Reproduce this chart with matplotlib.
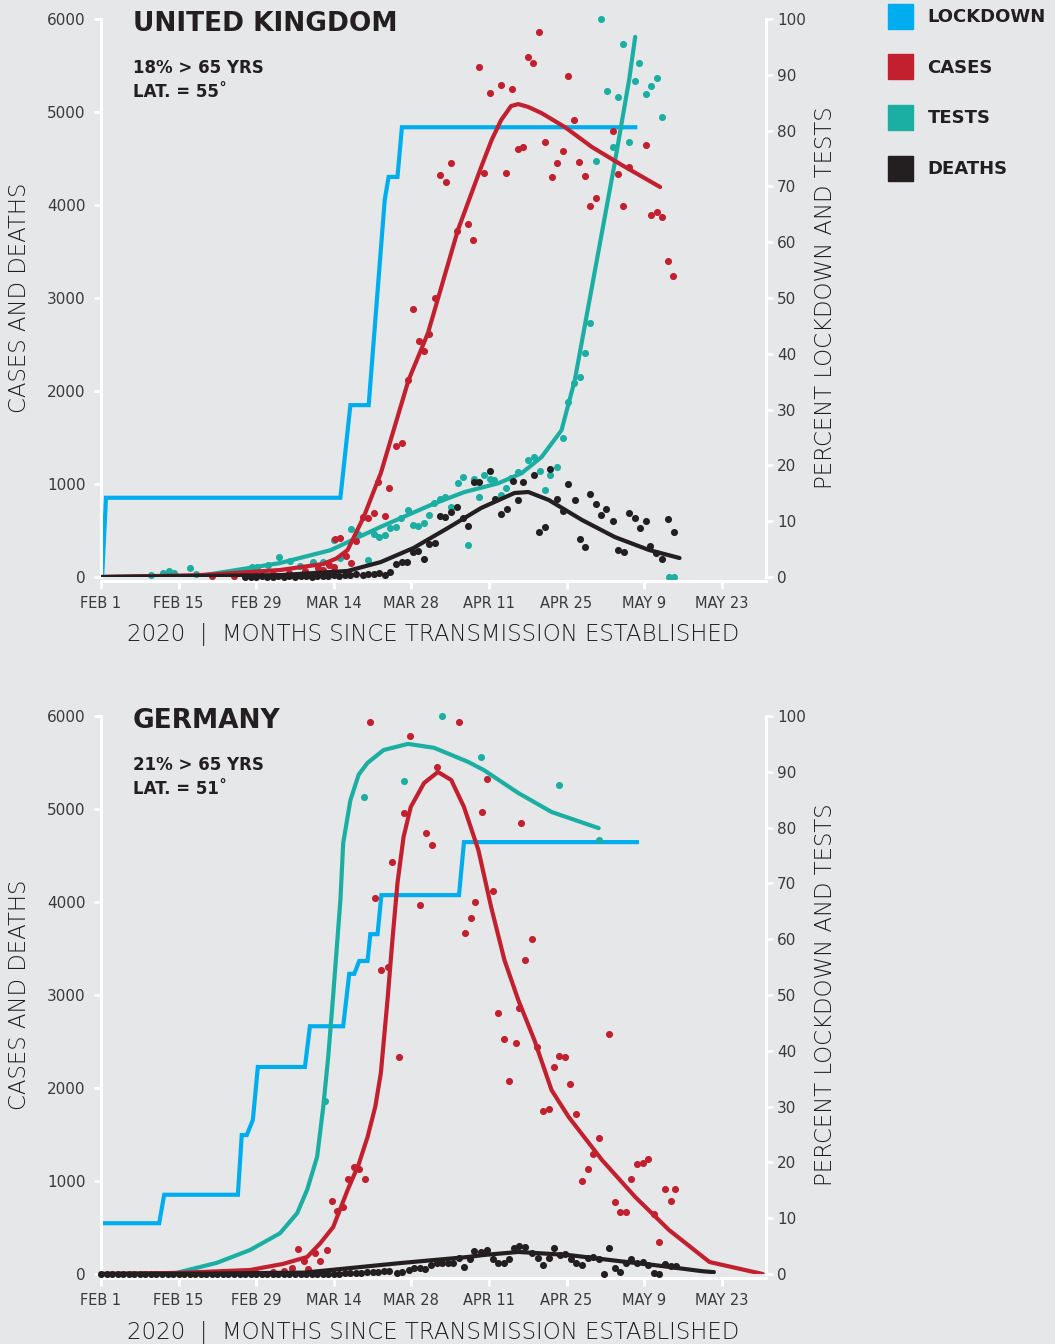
import matplotlib
matplotlib.use("Agg")
import matplotlib.pyplot as plt
from matplotlib.patches import Patch

# colours
BG = "#E6E7E8"
C_LOCK = "#00AEEF"
C_CASE = "#C21F2F"
C_TEST = "#1BAFA3"
C_DEATH = "#231F20"
TXT = "#2B2B2B"

# x axis: days since Feb 1 2020
tick_days = [0, 14, 28, 42, 56, 70, 84, 98, 112]
tick_labels = ["FEB 1", "FEB 15", "FEB 29", "MAR 14", "MAR 28", "APR 11", "APR 25", "MAY 9", "MAY 23"]

# ---------------- UNITED KINGDOM ----------------
uk_lock_days = [0.2, 0.9, 43.2, 45.0, 48.3, 51.2, 51.9, 53.5, 54.3, 96.4]
uk_lock_pct = [0, 14.2, 14.2, 30.8, 30.8, 67.6, 71.7, 71.7, 80.6, 80.6]

uk_case_trend_days = [0, 17.8, 32.3, 40.1, 42.5, 44.5, 47.4, 50.5, 55.5, 59.0, 64.4, 68.6, 70.5, 72.2, 74.0, 75.3, 77.1, 79.5, 83.7, 88.6, 94.0, 100.9]
uk_case_trend = [0, 20, 75, 140, 200, 290, 645, 1118, 2118, 2623, 3730, 4408, 4700, 4913, 5064, 5085, 5054, 4988, 4838, 4623, 4429, 4193]

uk_test_trend_days = [0, 17.8, 32.3, 41.4, 50.5, 59.5, 65.5, 71.7, 75.9, 79.5, 83.1, 85.5, 92.7, 95.3, 96.4]
uk_test_trend = [0, 0.2, 2.5, 4.8, 9.0, 12.9, 15.2, 16.8, 18.6, 21.5, 26.3, 35.3, 74.2, 89.1, 96.8]

uk_death_trend_days = [0, 32.3, 44.5, 50.5, 56.4, 62.6, 68.6, 74.6, 77.1, 80.8, 86.8, 92.7, 98.9, 104.4]
uk_death_trend = [0, 20, 65, 161, 312, 527, 742, 903, 914, 828, 613, 430, 290, 204]

uk_case_pts = [
    (20, 10), (24, 15), (28, 20), (31, 30), (34, 40), (36.8, 65), (39.2, 97), (40.1, 75),
    (41.2, 129), (42.1, 108), (42.3, 409), (43.2, 419), (44.3, 226), (45.2, 151), (46.1, 387),
    (47.2, 645), (48.1, 634), (49.2, 688), (50.0, 1022), (51.2, 656), (52.0, 957), (53.2, 1409),
    (54.3, 1441), (55.4, 2118), (56.3, 2882), (57.4, 2538), (58.3, 2430), (59.2, 2613),
    (60.3, 3000), (61.2, 4323), (62.3, 4247), (63.2, 4452), (64.2, 3721), (66.2, 3796),
    (67.2, 3624), (68.2, 5484), (69.1, 4344), (70.2, 5204), (72.2, 5290), (73.1, 4344),
    (74.2, 5247), (75.3, 4602), (76.2, 4624), (77.1, 5591), (78.0, 5527), (79.1, 5860),
    (80.2, 4678), (81.3, 4301), (82.2, 4452), (83.3, 4581), (84.2, 5387), (85.3, 4914),
    (86.2, 4463), (87.3, 4312), (88.2, 3989), (89.3, 4075), (92.4, 4796), (93.3, 4333),
    (94.2, 3989), (95.3, 4409), (98.4, 4645), (99.3, 3893), (100.4, 3925), (101.3, 3871),
    (102.4, 3398), (103.3, 3237),
]

uk_test_pts = [
    (9.1, 0.4), (11.1, 0.7), (12.2, 1.1), (13.1, 0.7), (16.0, 1.6), (17.2, 0.5), (27.2, 1.8),
    (28.1, 1.8), (30.1, 2.2), (32.1, 3.6), (34.1, 2.9), (35.9, 2.0), (38.3, 2.7), (40.1, 2.7),
    (42.1, 6.6), (43.2, 3.4), (45.2, 8.6), (46.3, 7.7), (48.1, 3.0), (49.2, 7.7), (50.1, 7.2),
    (51.2, 7.5), (52.1, 8.8), (53.2, 9.0), (54.1, 10.6), (55.4, 12.0), (56.3, 9.3), (57.2, 9.1),
    (58.3, 9.7), (59.2, 11.1), (60.1, 13.3), (61.2, 14.0), (62.1, 14.3), (63.2, 12.5),
    (64.4, 16.8), (65.3, 17.9), (66.2, 5.7), (67.3, 17.6), (68.2, 14.3), (69.1, 18.3),
    (70.2, 17.6), (71.0, 17.4), (72.2, 14.7), (73.1, 16.0), (74.0, 17.7), (75.3, 18.8),
    (77.1, 21.0), (78.2, 21.5), (79.3, 19.0), (80.2, 15.6), (81.1, 18.3), (82.2, 19.7),
    (83.3, 24.9), (84.2, 31.4), (85.3, 34.8), (86.4, 35.8), (87.3, 40.1), (88.2, 45.5),
    (89.3, 74.6), (90.2, 100), (91.3, 87.1), (92.4, 77.1), (93.3, 86.0), (94.2, 95.5),
    (95.3, 78.0), (96.4, 88.9), (97.1, 92.1), (98.4, 86.6), (99.3, 88.0), (100.4, 89.4),
    (101.3, 82.4), (102.5, 0), (103.4, 0),
]

uk_death_pts = [
    (26, 5), (27, 0), (28, 5), (29, 10), (30, 5), (31, 0), (32, 10), (33, 5), (34, 10), (35, 5),
    (36, 15), (37, 10), (38, 5), (39, 10), (40, 15), (41, 10), (42, 20), (43, 15), (44, 20),
    (45, 25), (46, 30), (47.2, 22), (48.1, 32), (49.2, 32), (50.1, 43), (51.2, 22), (52.1, 54),
    (53.2, 140), (54.3, 161), (55.2, 161), (56.3, 269), (57.2, 280), (58.3, 194), (59.2, 355),
    (60.3, 366), (61.2, 656), (62.1, 645), (63.2, 699), (64.2, 753), (65.3, 634), (66.2, 548),
    (67.3, 1022), (68.2, 1022), (70.2, 1140), (71.1, 839), (72.2, 677), (73.3, 731),
    (74.4, 1032), (75.3, 828), (76.2, 1022), (78.2, 1097), (79.1, 484), (80.2, 538),
    (81.1, 1161), (82.2, 839), (83.3, 710), (84.2, 1000), (85.5, 828), (86.4, 409), (87.3, 323),
    (88.2, 892), (89.3, 785), (90.2, 667), (91.1, 731), (92.4, 602), (93.3, 290), (94.4, 269),
    (95.3, 688), (96.4, 634), (97.3, 527), (98.4, 602), (99.1, 333), (100.2, 258), (101.3, 194),
    (102.4, 624), (103.4, 484),
]

# ---------------- GERMANY ----------------
de_lock_days = [0.2, 10.5, 11.4, 24.7, 25.4, 26.3, 27.4, 28.3, 36.8, 37.7, 43.7, 44.8, 45.7, 46.6, 48.1, 48.6, 49.9, 50.6, 64.6, 65.5, 96.7]
de_lock_pct = [9.1, 9.1, 14.2, 14.2, 24.9, 24.9, 27.6, 37.1, 37.1, 44.4, 44.4, 53.8, 53.8, 56.1, 56.1, 60.9, 60.9, 67.9, 67.9, 77.4, 77.4]

de_test_trend_days = [0, 13.6, 20.9, 26.9, 32.3, 35.4, 37.2, 39.0, 40.1, 41.0, 41.9, 43.2, 43.7, 45.0, 46.5, 48.1, 51.0, 55.4, 60.1, 66.2, 69.1, 75.3, 81.3, 89.8]
de_test_trend = [0, 0.2, 2.0, 4.3, 7.3, 10.9, 15.1, 21.0, 29.9, 38.9, 50.0, 67.0, 77.2, 84.9, 89.5, 91.6, 93.9, 95.0, 94.3, 91.8, 90.3, 86.2, 82.8, 79.9]

de_case_trend_days = [0, 13.6, 26.9, 32.8, 37.2, 39.6, 41.9, 44.5, 46.5, 48.1, 49.5, 50.5, 51.7, 52.6, 53.5, 54.6, 55.9, 58.3, 60.8, 63.2, 65.5, 68.1, 70.4, 72.8, 75.3, 78.2, 81.3, 84.4, 90.4, 96.4, 102.5, 109.8, 119.4]
de_case_trend = [0, 11, 43, 108, 183, 333, 505, 903, 1180, 1473, 1800, 2161, 2946, 3600, 4204, 4700, 5022, 5280, 5398, 5312, 5022, 4559, 3946, 3376, 2946, 2516, 1978, 1688, 1226, 828, 473, 129, 0]

de_death_trend_days = [0, 20, 36.7, 54.1, 66.2, 69.0, 75.3, 84.4, 93.3, 100.0, 108.5, 110.6]
de_death_trend = [0, 5, 15, 118, 183, 204, 237, 204, 140, 95, 30, 20]

de_case_pts = [
    (28, 10), (31, 20), (33, 30), (34.5, 60), (35.6, 269), (36.7, 140), (37.4, 54), (38.7, 226),
    (39.6, 140), (40.8, 258), (41.7, 785), (42.6, 677), (43.7, 720), (44.6, 1022), (45.6, 1151),
    (46.6, 1129), (47.7, 1022), (48.5, 5936), (49.5, 4043), (50.5, 3269), (51.7, 3301),
    (52.6, 4430), (53.7, 2333), (54.6, 4957), (55.7, 5785), (57.5, 3968), (58.6, 4742),
    (59.7, 4613), (60.6, 5452), (64.6, 5936), (65.7, 3667), (66.8, 3828), (67.5, 4000),
    (68.8, 4968), (69.7, 5323), (70.8, 4118), (71.7, 2807), (72.8, 2527), (73.7, 2075),
    (74.8, 2484), (75.5, 2860), (75.7, 4850), (76.6, 3376), (77.7, 3602), (78.6, 2441),
    (79.7, 1753), (80.8, 1774), (81.7, 2226), (82.6, 2344), (83.7, 2333), (84.6, 2043),
    (85.7, 1721), (86.8, 1000), (87.8, 1129), (88.7, 1290), (89.8, 1462), (91.7, 2581),
    (92.7, 774), (93.6, 667), (94.7, 667), (95.6, 1022), (96.7, 1183), (97.8, 1194),
    (98.7, 1237), (99.8, 645), (100.7, 344), (101.8, 914), (102.9, 785), (103.6, 914),
]

de_test_pts = [(40.5, 31.0), (47.5, 85.5), (54.6, 88.4), (61.5, 100), (68.6, 92.7), (82.6, 87.6), (89.8, 77.8)]

de_death_pts = [
    (0, 0), (1, 0), (2, 0), (3, 0), (4, 0), (5, 0), (6, 0), (7, 0), (8, 0), (9, 0), (10, 0),
    (11, 0), (12, 0), (13, 0), (14, 0), (15, 0), (16, 0), (17, 0), (18, 0), (19, 0), (20, 0),
    (21, 0), (22, 0), (23, 0), (24, 0), (25, 0), (26, 0), (27, 0), (28, 0), (29, 0), (30, 0),
    (31, 0), (32, 0), (33, 0), (34, 0), (35, 0), (36, 5), (37, 5), (38, 5), (39, 5), (40, 5),
    (41, 5), (42, 5), (43, 5), (44, 10), (45, 10), (46, 15), (47, 15), (48, 20), (49, 25),
    (50, 25), (51, 30), (52, 30), (53.5, 11), (54.4, 22), (55.5, 43), (56.4, 65), (57.5, 65),
    (58.5, 54), (59.5, 97), (60.6, 118), (61.5, 118), (62.6, 118), (63.5, 118), (64.6, 172),
    (65.5, 75), (66.6, 161), (67.3, 247), (68.6, 237), (69.7, 258), (70.8, 161), (71.7, 118),
    (72.8, 118), (73.7, 161), (74.6, 280), (75.5, 301), (76.6, 290), (77.7, 226), (78.8, 172),
    (79.7, 97), (80.8, 172), (81.7, 280), (82.8, 204), (83.7, 215), (84.8, 161), (85.7, 118),
    (86.8, 97), (87.8, 172), (88.7, 183), (89.8, 161), (90.7, 0), (91.7, 280), (92.7, 65),
    (93.6, 22), (94.7, 118), (95.6, 161), (96.7, 118), (97.8, 129), (98.7, 97), (99.8, 11),
    (100.7, 0), (101.8, 108), (102.9, 86), (103.8, 86),
]

W, H = 1055, 1344
plt.rcParams["font.family"] = ["DejaVu Sans"]
fig = plt.figure(figsize=(W / 100, H / 100), dpi=100, facecolor=BG)


def px(x, y):
    return x / W, 1 - y / H


def panel(top_px, bot_px, name, age, lat, lock, case_tr, test_tr, death_tr, case_pts, test_pts, death_pts):
    l, b = px(101, bot_px)
    r, t = px(766, top_px)
    ax2 = fig.add_axes([l, b, r - l, t - b])
    ax = fig.add_axes([l, b, r - l, t - b], sharex=ax2)
    ax2.set_facecolor("none")
    ax.set_facecolor("none")

    # right axis: percent (lockdown, tests)
    ax2.plot(lock[0], lock[1], color=C_LOCK, lw=3, solid_joinstyle="miter", zorder=2)
    ax2.plot(test_tr[0], test_tr[1], color=C_TEST, lw=3, solid_capstyle="round", zorder=3)
    ax2.scatter([p[0] for p in test_pts], [p[1] for p in test_pts], s=26, color=C_TEST,
                linewidths=0, zorder=4, clip_on=False)

    # left axis: cases and deaths
    ax.scatter([p[0] for p in case_pts], [p[1] for p in case_pts], s=26, color=C_CASE,
               linewidths=0, zorder=3, clip_on=False)
    ax.scatter([p[0] for p in death_pts], [p[1] for p in death_pts], s=26, color=C_DEATH,
               linewidths=0, zorder=3, clip_on=False)
    ax.plot(case_tr[0], case_tr[1], color=C_CASE, lw=3, solid_capstyle="round", zorder=4)
    ax.plot(death_tr[0], death_tr[1], color=C_DEATH, lw=3, solid_capstyle="round", zorder=4)

    ax.set_xlim(0, 120)
    ax.set_ylim(0, 6000)
    ax2.set_ylim(0, 100)
    ax.set_yticks(range(0, 6001, 1000))
    ax2.set_yticks(range(0, 101, 10))
    ax.set_xticks(tick_days)
    ax.set_xticklabels(tick_labels)

    for s in ["top", "right"]:
        ax.spines[s].set_visible(False)
    for s in ["top", "left", "bottom"]:
        ax2.spines[s].set_visible(False)
    for s in ["left", "bottom"]:
        ax.spines[s].set_color("white")
        ax.spines[s].set_linewidth(2.2)
    ax.spines["bottom"].set_position(("outward", 3))
    ax2.spines["right"].set_color("white")
    ax2.spines["right"].set_linewidth(2.2)

    ax.tick_params(axis="x", colors="white", length=6, width=2, labelcolor="#3A3A3A", labelsize=10.5, pad=5)
    ax.tick_params(axis="y", colors="white", length=5, width=2, labelcolor="#3A3A3A", labelsize=11, pad=6)
    ax2.tick_params(axis="y", left=False, labelleft=False, right=True, labelright=True,
                    colors="white", length=5, width=2, labelcolor="#3A3A3A", labelsize=11, pad=3)
    ax2.tick_params(axis="x", bottom=False, labelbottom=False)

    mid = (top_px + bot_px) / 2
    fig.text(*px(20, mid), "CASES AND DEATHS", rotation=90, ha="center", va="center",
             fontsize=16.5, color="#1E1E1E", fontweight="light")
    fig.text(*px(825, mid), "PERCENT LOCKDOWN AND TESTS", rotation=90, ha="center", va="center",
             fontsize=16.5, color="#1E1E1E", fontweight="light")
    fig.text(*px(433, bot_px + 58), "2020  |  MONTHS SINCE TRANSMISSION ESTABLISHED",
             ha="center", va="center", fontsize=16.5, color="#1E1E1E", fontweight="light")
    fig.text(*px(133, top_px + 5), name, ha="left", va="center", fontsize=19,
             fontweight="bold", color=C_DEATH)
    fig.text(*px(133, top_px + 49), age, ha="left", va="center", fontsize=12,
             fontweight="bold", color=C_DEATH)
    fig.text(*px(133, top_px + 73), lat, ha="left", va="center", fontsize=12,
             fontweight="bold", color=C_DEATH)


panel(19, 577, "UNITED KINGDOM", "18% > 65 YRS", "LAT. = 55˚",
      (uk_lock_days, uk_lock_pct), (uk_case_trend_days, uk_case_trend),
      (uk_test_trend_days, uk_test_trend), (uk_death_trend_days, uk_death_trend),
      uk_case_pts, uk_test_pts, uk_death_pts)
panel(716, 1274, "GERMANY", "21% > 65 YRS", "LAT. = 51˚",
      (de_lock_days, de_lock_pct), (de_case_trend_days, de_case_trend),
      (de_test_trend_days, de_test_trend), (de_death_trend_days, de_death_trend),
      de_case_pts, de_test_pts, de_death_pts)

handles = [Patch(color=C_LOCK, label="LOCKDOWN"), Patch(color=C_CASE, label="CASES"),
           Patch(color=C_TEST, label="TESTS"), Patch(color=C_DEATH, label="DEATHS")]
leg = fig.legend(handles=handles, loc="upper left", bbox_to_anchor=px(886, 2), frameon=False,
                 prop={"weight": "bold", "size": 13}, handlelength=1.4, handleheight=1.75,
                 labelspacing=1.42, handletextpad=0.8, borderpad=0.1, borderaxespad=0)
for t in leg.get_texts():
    t.set_color(C_DEATH)

fig.savefig("out.png", dpi=100, facecolor=BG)
